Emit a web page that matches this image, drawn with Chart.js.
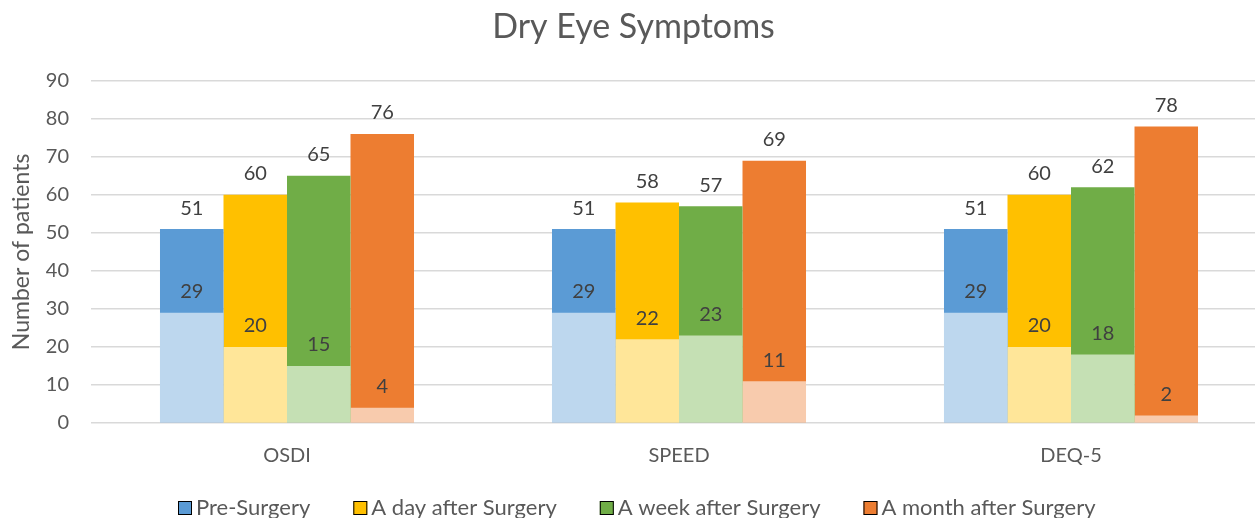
<!DOCTYPE html>
<html>
<head>
<meta charset="utf-8">
<script src="https://cdn.jsdelivr.net/npm/chart.js@4"></script>
<style>
  html, body { margin: 0; padding: 0; overflow: hidden; background: #fff; }
  #wrap { width: 1268px; height: 518px; }
</style>
</head>
<body>
<div id="wrap"><canvas id="chart"></canvas></div>
<script>
const categories = ['OSDI', 'SPEED', 'DEQ-5'];
const seriesNames = ['Pre-Surgery', 'A day after Surgery', 'A week after Surgery', 'A month after Surgery'];

// totals (dark bars) and lower values (light bars)
const preTotal = [51, 51, 51];
const dayTotal = [60, 58, 60];
const weekTotal = [65, 57, 62];
const monthTotal = [76, 69, 78];

const preLow = [29, 29, 29];
const dayLow = [20, 22, 20];
const weekLow = [15, 23, 18];
const monthLow = [4, 11, 2];

const yTicks = [0, 10, 20, 30, 40, 50, 60, 70, 80, 90];

const darkColors = ['#5B9BD5', '#FFC000', '#70AD47', '#ED7D31'];
const lightColors = ['#BDD7EE', '#FFE699', '#C5E0B4', '#F8CBAD'];
const stackIds = ['pre', 'day', 'week', 'month'];

const totals = [preTotal, dayTotal, weekTotal, monthTotal];
const lows = [preLow, dayLow, weekLow, monthLow];

const datasets = [];
totals.forEach((d, i) => {
  datasets.push({
    label: seriesNames[i],
    data: d,
    backgroundColor: darkColors[i],
    stack: stackIds[i],
    order: 1,
  });
});
lows.forEach((d, i) => {
  datasets.push({
    label: seriesNames[i] + ' (low)',
    data: d,
    backgroundColor: lightColors[i],
    stack: stackIds[i],
    order: 0,
  });
});

// numbers above each bar
const valueLabels = {
  id: 'valueLabels',
  afterDatasetsDraw(chart) {
    const ctx = chart.ctx;
    ctx.save();
    ctx.font = '20px Lato';
    ctx.fillStyle = '#404040';
    ctx.textAlign = 'center';
    ctx.textBaseline = 'middle';
    chart.data.datasets.forEach((ds, di) => {
      const meta = chart.getDatasetMeta(di);
      meta.data.forEach((el, j) => {
        ctx.fillText(String(ds.data[j]), el.x, el.y - 21);
      });
    });
    ctx.restore();
  }
};

// legend drawn by hand so the box/text gaps match
const bottomLegend = {
  id: 'bottomLegend',
  afterDraw(chart) {
    const ctx = chart.ctx;
    ctx.save();
    ctx.font = '22px Lato';
    ctx.textBaseline = 'middle';
    const box = 14, gapText = 4, gapItem = 43;
    const widths = seriesNames.map(n => box + gapText + ctx.measureText(n).width);
    const total = widths.reduce((a, b) => a + b, 0) + gapItem * (seriesNames.length - 1);
    let x = Math.round(chart.width / 2 - total / 2 + 3);
    const y = 508;
    seriesNames.forEach((n, i) => {
      ctx.fillStyle = darkColors[i];
      ctx.fillRect(x, y - box / 2, box, box);
      ctx.strokeStyle = '#000';
      ctx.lineWidth = 1;
      ctx.strokeRect(x + 0.5, y - box / 2 + 0.5, box - 1, box - 1);
      ctx.fillStyle = '#595959';
      ctx.fillText(n, x + box + gapText, y);
      x += widths[i] + gapItem;
    });
    ctx.restore();
  }
};

function createChart() {
  const ctx = document.getElementById('chart').getContext('2d');
  new Chart(ctx, {
    type: 'bar',
    data: { labels: categories, datasets: datasets },
    plugins: [valueLabels, bottomLegend],
    options: {
      responsive: true,
      maintainAspectRatio: false,
      animation: false,
      layout: { padding: { left: 0, right: 1, top: 0, bottom: 45 } },
      datasets: {
        bar: { barPercentage: 1, categoryPercentage: 0.648, borderWidth: 0 }
      },
      plugins: {
        title: {
          display: true,
          text: 'Dry Eye Symptoms',
          color: '#595959',
          font: { family: 'Lato', size: 34, weight: 'normal' },
          padding: { top: 7, bottom: 33 },
        },
        legend: { display: false },
        tooltip: { enabled: false },
      },
      scales: {
        x: {
          stacked: true,
          grid: { display: false },
          border: { display: false },
          afterFit: (axis) => { axis.height = 50; },
          ticks: {
            color: '#595959',
            font: { family: 'Lato', size: 20 },
            padding: 13,
          },
        },
        y: {
          stacked: false,
          min: 0,
          max: 90,
          afterBuildTicks: (axis) => { axis.ticks = yTicks.map(v => ({ value: v })); },
          afterFit: (axis) => { axis.width = 91; },
          grid: { color: '#D9D9D9', lineWidth: 1.5, drawTicks: false },
          border: { display: false },
          ticks: {
            color: '#595959',
            font: { family: 'Lato', size: 20 },
            padding: 22,
          },
          title: {
            display: true,
            text: 'Number of patients',
            color: '#595959',
            font: { family: 'Lato', size: 23 },
            padding: { top: 8, bottom: 0 },
          },
        },
      },
    },
  });
}

createChart();
</script>
</body>
</html>
